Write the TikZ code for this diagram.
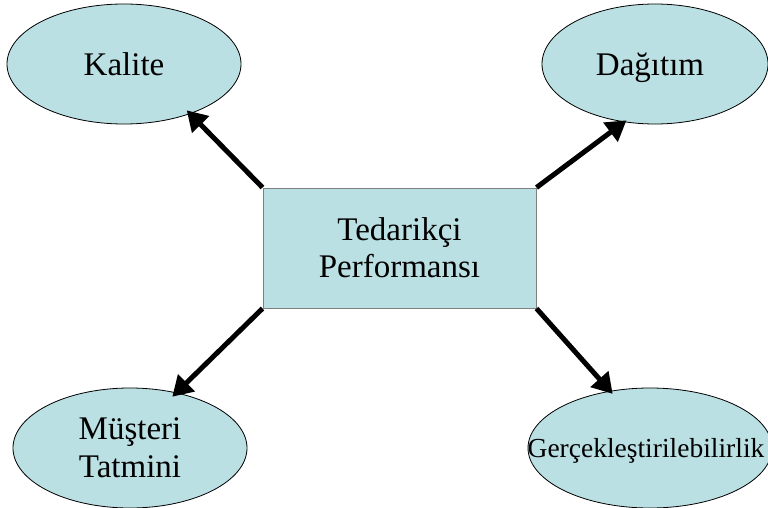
\documentclass[tikz,border=0pt]{standalone}
\usepackage{fontspec}
\setmainfont{Liberation Serif}
\usetikzlibrary{shapes.geometric,arrows.meta}
\definecolor{boxfill}{RGB}{187,224,227}
\definecolor{boxline}{RGB}{128,128,128}
\begin{document}
\begin{tikzpicture}[x=1pt,y=-1pt,
  oval/.style={ellipse,draw=black,line width=0.8pt,fill=boxfill,inner sep=0pt,
    font=\fontsize{33}{38}\selectfont,align=center},
  centre/.style={rectangle,draw=boxline,line width=1pt,fill=boxfill,inner sep=0pt,
    minimum width=273pt,minimum height=120pt,font=\fontsize{33}{37}\selectfont,align=center},
  arr/.style={line width=5pt,-{Triangle[length=20pt,width=23pt]}}]
\useasboundingbox (0,0) rectangle (768,508);
\node[centre] (ted) at (399.5,248) {Tedarikçi\\Performansı};
\node[oval,text depth=0pt,minimum width=234pt,minimum height=120pt] (kal) at (124,64) {Kalite};
\node[oval,text depth=0pt,minimum width=226pt,minimum height=120pt] (dag) at (655,64) {\makebox[0pt]{\hspace*{-10pt}Dağıtım}};
\node[oval,minimum width=234pt,minimum height=120pt] (mus) at (130,448) {Müşteri\\Tatmini};
\node[oval,text depth=0pt,minimum width=244pt,minimum height=120pt,font=\fontsize{27.5}{33}\selectfont] (ger) at (650,448) {\makebox[0pt]{\hspace*{-8pt}Gerçekleştirilebilirlik}};
\draw[arr,shorten >=-5pt] (ted.north west) -- (kal.-37.5);
\draw[arr,shorten >=-3pt] (ted.north east) -- (dag.242);
\draw[arr,shorten >=-6pt] (ted.south west) -- (mus.50);
\draw[arr,shorten >=-4pt] (ted.south east) -- (ger.125);
\end{tikzpicture}
\end{document}
